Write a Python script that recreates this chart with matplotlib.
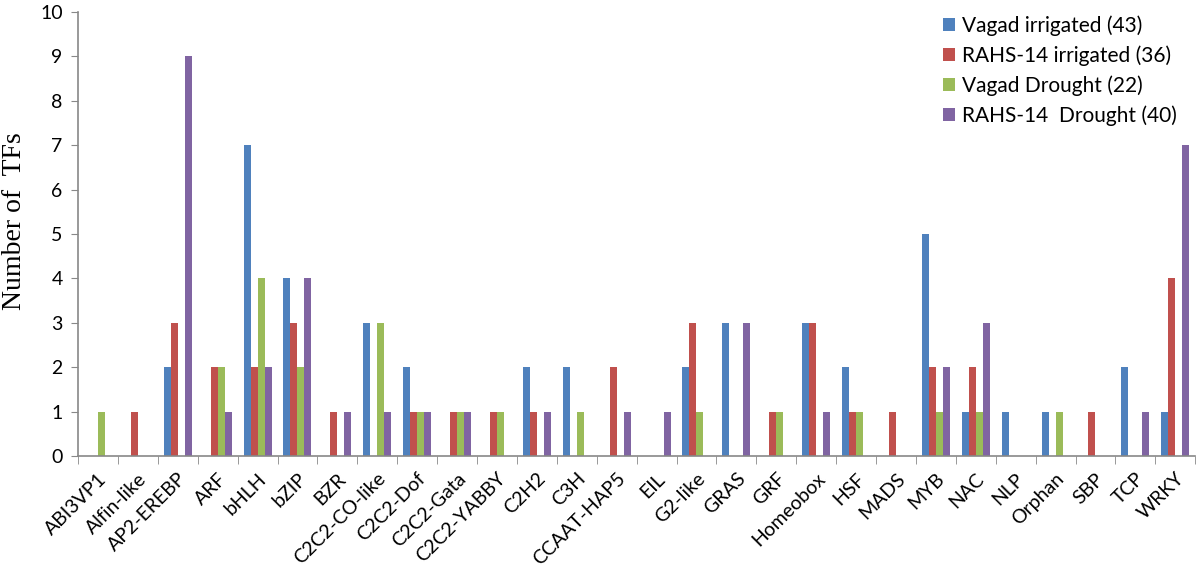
import numpy as np
import matplotlib
matplotlib.use("Agg")
import matplotlib.pyplot as plt
from matplotlib.ticker import FixedLocator

plt.rcParams['font.family'] = ['Lato', 'DejaVu Sans']

categories = ["ABI3VP1", "Alfin-like", "AP2-EREBP", "ARF", "bHLH", "bZIP", "BZR",
              "C2C2-CO-like", "C2C2-Dof", "C2C2-Gata", "C2C2-YABBY", "C2H2", "C3H",
              "CCAAT-HAP5", "EIL", "G2-like", "GRAS", "GRF", "Homeobox", "HSF", "MADS",
              "MYB", "NAC", "NLP", "Orphan", "SBP", "TCP", "WRKY"]

vagad_irr = [0, 0, 2, 0, 7, 4, 0, 3, 2, 0, 0, 2, 2, 0, 0, 2, 3, 0, 3, 2, 0, 5, 1, 1, 1, 0, 2, 1]
rahs_irr = [0, 1, 3, 2, 2, 3, 1, 0, 1, 1, 1, 1, 0, 2, 0, 3, 0, 1, 3, 1, 1, 2, 2, 0, 0, 1, 0, 4]
vagad_dr = [1, 0, 0, 2, 4, 2, 0, 3, 1, 1, 1, 0, 1, 0, 0, 1, 0, 1, 0, 1, 0, 1, 1, 0, 1, 0, 0, 0]
rahs_dr = [0, 0, 9, 1, 2, 4, 1, 1, 1, 1, 0, 1, 0, 1, 1, 0, 3, 0, 1, 0, 0, 2, 3, 0, 0, 0, 1, 7]

series = [
    ("Vagad irrigated (43)", vagad_irr, "#4F81BD"),
    ("RAHS-14 irrigated (36)", rahs_irr, "#C0504D"),
    ("Vagad Drought (22)", vagad_dr, "#9BBB59"),
    ("RAHS-14  Drought (40)", rahs_dr, "#8064A2"),
]

fig = plt.figure(figsize=(12, 5.73), dpi=100)
ax = fig.add_axes([0.065, 0.204, 0.931, 0.775])

x = np.arange(len(categories))
w = 0.175
for i, (name, vals, col) in enumerate(series):
    ax.bar(x + (i - 1.5) * w, vals, width=w, color=col, label=name)

ax.set_xlim(-0.5, len(categories) - 0.5)
ax.set_ylim(0, 10)
ax.set_yticks(range(0, 11))
ax.tick_params(axis='y', labelsize=14, length=5, color='#888888', pad=6)

ax.set_xticks(x)
ax.set_xticklabels(categories, rotation=45, ha='right', rotation_mode='anchor', fontsize=14)
ax.tick_params(axis='x', which='major', length=0, pad=10)
ax.xaxis.set_minor_locator(FixedLocator(np.arange(-0.5, len(categories), 1)))
ax.tick_params(axis='x', which='minor', length=6, color='#888888')

for s in ['top', 'right']:
    ax.spines[s].set_visible(False)
for s in ['left', 'bottom']:
    ax.spines[s].set_color('#888888')
    ax.spines[s].set_linewidth(1.2)

ax.set_ylabel("Number of  TFs", family='Liberation Serif', fontsize=20, labelpad=6)
ax.yaxis.set_label_coords(-0.046, 0.53)

ax.legend(loc='upper right', bbox_to_anchor=(1.0, 1.035), frameon=False, fontsize=15,
          handlelength=0.6, handleheight=0.6, handletextpad=0.3, labelspacing=0.45)

fig.savefig("out.png", dpi=100)
